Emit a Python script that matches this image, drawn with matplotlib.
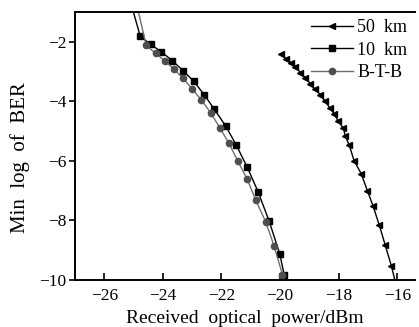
import matplotlib
matplotlib.use('Agg')
import matplotlib.pyplot as plt

# ================================
# Data
# ================================
km50_x = [-19.96, -19.79, -19.63, -19.48, -19.31, -19.14, -18.97, -18.80, -18.63,
          -18.46, -18.29, -18.15, -18.01, -17.84, -17.77, -17.64, -17.47, -17.23,
          -17.02, -16.82, -16.61, -16.41, -16.20, -16.02]
km50_y = [-2.40, -2.57, -2.70, -2.83, -3.03, -3.20, -3.40, -3.60, -3.77,
          -4.00, -4.23, -4.43, -4.67, -4.90, -5.17, -5.47, -6.00, -6.43,
          -7.00, -7.53, -8.17, -8.83, -9.53, -10.25]

km10_x = [-25.15, -24.77, -24.42, -24.05, -23.68, -23.31, -22.95, -22.58, -22.24,
          -21.86, -21.50, -21.12, -20.75, -20.37, -20.01, -19.86]
km10_y = [-0.50, -1.82, -2.08, -2.34, -2.63, -2.97, -3.32, -3.79, -4.27,
          -4.82, -5.46, -6.21, -7.04, -8.03, -9.13, -9.82]

btb_x = [-24.95, -24.57, -24.25, -23.94, -23.62, -23.31, -23.00, -22.69, -22.37,
         -22.06, -21.75, -21.44, -21.12, -20.83, -20.49, -20.20, -19.92]
btb_y = [-0.50, -2.12, -2.38, -2.64, -2.92, -3.23, -3.58, -3.95, -4.38,
         -4.88, -5.40, -6.01, -6.62, -7.32, -8.05, -8.87, -9.82]

x_ticks = [-26, -24, -22, -20, -18, -16]
y_ticks = [-2, -4, -6, -8, -10]

# ================================
# Plot
# ================================
plt.rcParams['font.family'] = ['Liberation Serif', 'DejaVu Serif']
plt.rcParams['font.size'] = 12.5

fig = plt.figure(figsize=(4.19, 3.27), dpi=100)
ax = fig.add_axes([0.179, 0.144, 0.811, 0.819])

ax.plot(km50_x, km50_y, color='black', lw=1.0, marker='<', ms=5, label='50  km')
ax.plot(km10_x, km10_y, color='black', lw=1.0, marker='s', ms=4, label='10  km')
ax.plot(btb_x, btb_y, color='#6e6e6e', lw=1.0, marker='o', ms=4.5,
        mfc='#4e4e4e', mec='#4e4e4e', label='B-T-B')

ax.set_xlim(-27, -15.4)
ax.set_ylim(-10, -1)
ax.set_xticks(x_ticks)
ax.set_yticks(y_ticks)

ax.spines['right'].set_visible(False)
for s in ['left', 'bottom', 'top']:
    ax.spines[s].set_linewidth(1.4)

ax.tick_params(axis='x', direction='in', length=5, width=1.2, pad=6)
ax.tick_params(axis='y', direction='out', length=4, width=1.2, pad=2)

ax.set_xlabel('Received  optical  power/dBm', fontsize=14)
ax.xaxis.set_label_coords(0.5, -0.112)
ax.set_ylabel('Min  log  of  BER', fontsize=15)
ax.yaxis.set_label_coords(-0.132, 0.455)

leg = ax.legend(loc='upper right', frameon=False, handlelength=2.3,
                handletextpad=0.25, labelspacing=0.3, borderaxespad=0.0,
                fontsize=13)

plt.savefig('out.png', dpi=100)
plt.close()
